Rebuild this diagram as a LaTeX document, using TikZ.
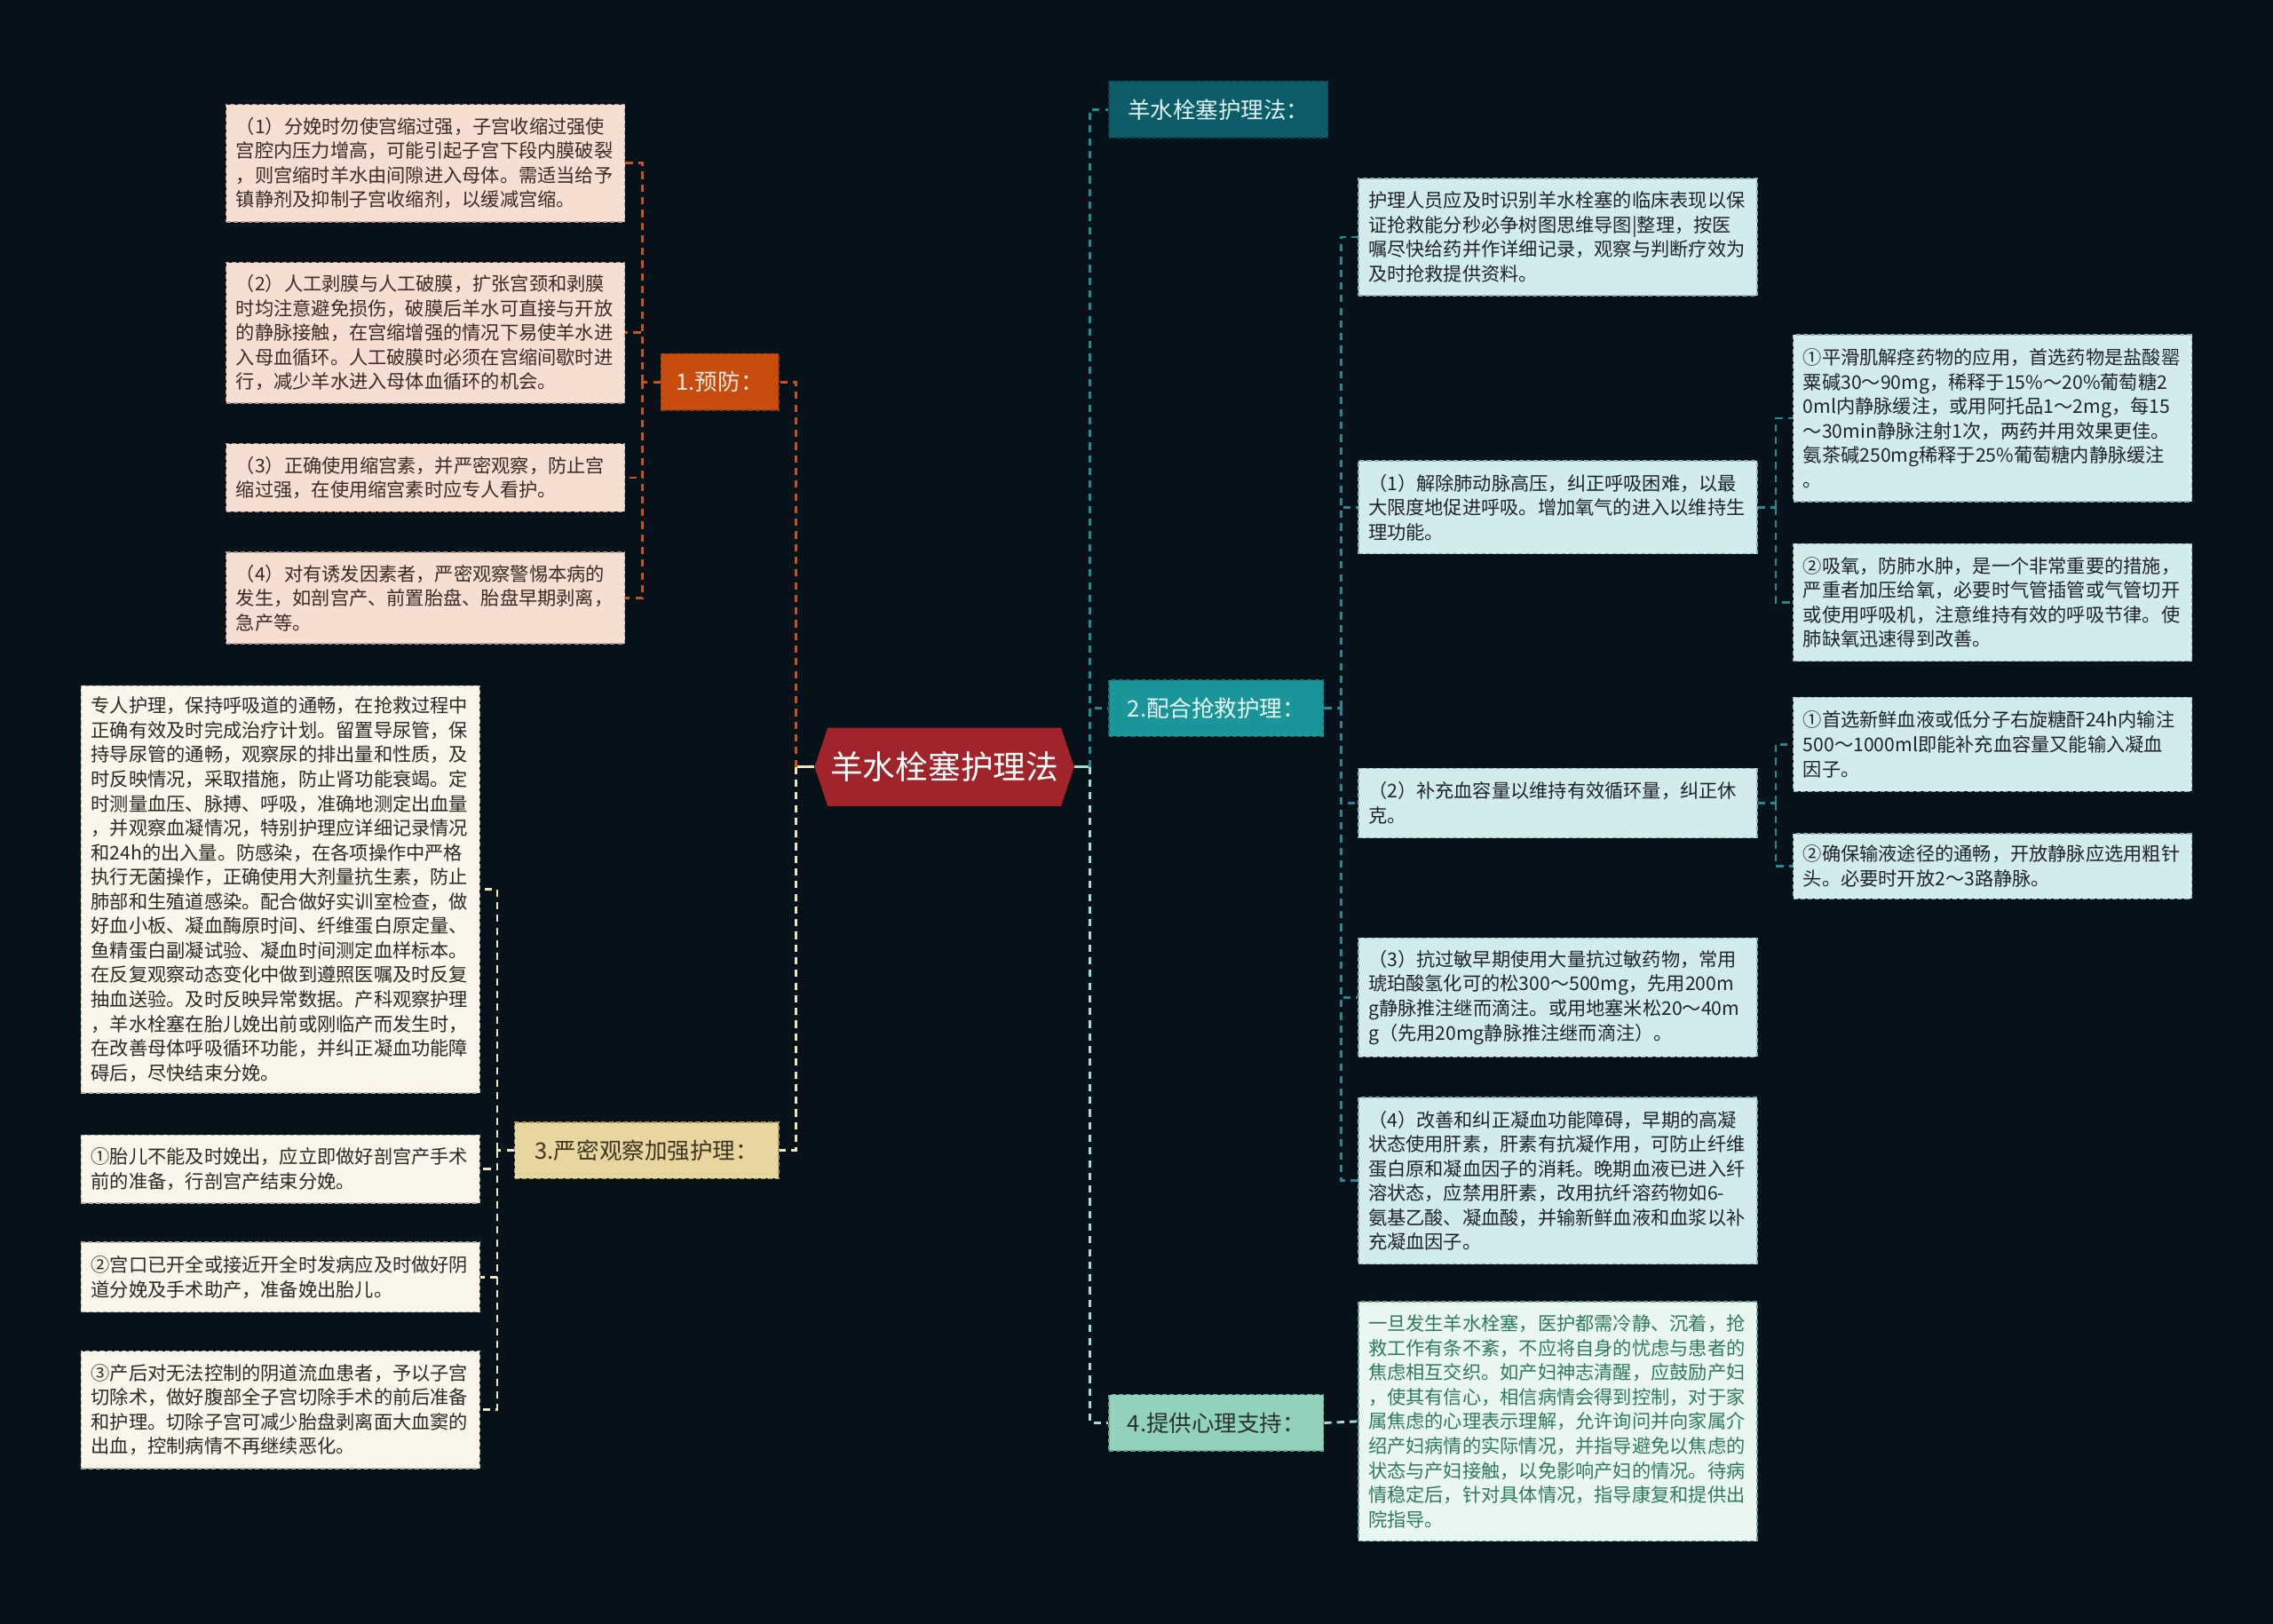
\documentclass[tikz,border=0pt]{standalone}
\usepackage{fontspec}
\setmainfont{Noto Sans CJK SC}
\usetikzlibrary{calc}
\definecolor{bgc}{RGB}{6,17,26}
\definecolor{rootred}{RGB}{160,36,42}
\definecolor{orangebox}{RGB}{200,76,14}
\definecolor{orangeline}{RGB}{196,84,30}
\definecolor{orangeborder}{RGB}{150,55,10}
\definecolor{pinkfill}{RGB}{247,222,210}
\definecolor{pinkborder}{RGB}{180,150,140}
\definecolor{pinktext}{RGB}{58,42,36}
\definecolor{tanbox}{RGB}{232,214,160}
\definecolor{tanborder}{RGB}{170,150,100}
\definecolor{creamline}{RGB}{238,228,192}
\definecolor{creamfill}{RGB}{250,246,235}
\definecolor{creamborder}{RGB}{180,175,160}
\definecolor{darktext}{RGB}{44,40,36}
\definecolor{tealdark}{RGB}{12,92,106}
\definecolor{tealdarkborder}{RGB}{8,70,82}
\definecolor{tealbox}{RGB}{26,150,155}
\definecolor{tealboxborder}{RGB}{18,118,122}
\definecolor{tealline}{RGB}{36,138,146}
\definecolor{cyanfill}{RGB}{210,236,238}
\definecolor{cyanborder}{RGB}{140,175,180}
\definecolor{cyantext}{RGB}{30,36,38}
\definecolor{mintbox}{RGB}{146,210,188}
\definecolor{mintborder}{RGB}{100,165,145}
\definecolor{mintline}{RGB}{170,220,206}
\definecolor{mintfill}{RGB}{234,246,240}
\definecolor{minttext}{RGB}{46,122,92}
\definecolor{n1text}{RGB}{253,232,222}
\definecolor{n3text}{RGB}{60,50,30}
\definecolor{nttext}{RGB}{224,244,246}
\definecolor{n2text}{RGB}{236,251,251}
\definecolor{n4text}{RGB}{40,50,45}
\begin{document}
\begin{tikzpicture}[x=0.8pt,y=-0.8pt,
  leaf/.style={rectangle, draw, line width=0.7pt, dash pattern=on 2.5pt off 1.5pt,
    inner xsep=5.5pt, inner ysep=0pt, text width=209pt, align=left,
    font=\fontsize{10.4}{13.5}\selectfont},
  pinkleaf/.style={leaf, fill=pinkfill, draw=pinkborder, text=pinktext},
  creamleaf/.style={leaf, fill=creamfill, draw=creamborder, text=darktext},
  cyanleaf/.style={leaf, fill=cyanfill, draw=cyanborder, text=cyantext},
  mintleaf/.style={leaf, fill=mintfill, draw=mintborder, text=minttext},
  mainbox/.style={rectangle, draw, line width=0.8pt, dash pattern=on 2.5pt off 1.5pt,
    inner sep=0pt, minimum height=31.2pt, font=\fontsize{12.5}{15}\selectfont},
  link/.style={line width=1.4pt, dash pattern=on 4pt off 3pt},
  orangelink/.style={link, draw=orangeline},
  creamlink/.style={link, draw=creamline},
  teallink/.style={link, draw=tealline},
  mintlink/.style={link, draw=mintline}
]
\fill[bgc] (0,0) rectangle (1568,1120);
\useasboundingbox (0,0) rectangle (1568,1120);

% root
\fill[rootred] (562,529) -- (571,502) -- (732,502) -- (741,529) -- (732,556) -- (571,556) -- cycle;
\node[text=white, font=\fontsize{18}{20}\selectfont, minimum width=143.2pt, minimum height=43.2pt, inner sep=0pt] (root) at (651.5,529) {羊水栓塞护理法};

% level 1
\node[mainbox, fill=orangebox, draw=orangeborder, text=n1text, minimum width=64.8pt] (n1) at (496.5,263.5) {1.预防：};
\node[mainbox, fill=tanbox, draw=tanborder, text=n3text, minimum width=145.6pt] (n3) at (446,793.5) {3.严密观察加强护理：};
\node[mainbox, fill=tealdark, draw=tealdarkborder, text=nttext, minimum width=120.8pt] (nt) at (840.5,75.5) {羊水栓塞护理法：};
\node[mainbox, fill=tealbox, draw=tealboxborder, text=n2text, minimum width=118.4pt] (n2) at (839,488.5) {2.配合抢救护理：};
\node[mainbox, fill=mintbox, draw=mintborder, text=n4text, minimum width=118.4pt] (n4) at (839,981.5) {4.提供心理支持：};

% prevention children
\node[pinkleaf, minimum height=64.8pt] (c1) at (293.5,112.5) {（1）分娩时勿使宫缩过强，子宫收缩过强使\\宫腔内压力增高，可能引起子宫下段内膜破裂\\，则宫缩时羊水由间隙进入母体。需适当给予\\镇静剂及抑制子宫收缩剂，以缓减宫缩。};
\node[pinkleaf, minimum height=77.6pt] (c2) at (293.5,229.5) {（2）人工剥膜与人工破膜，扩张宫颈和剥膜\\时均注意避免损伤，破膜后羊水可直接与开放\\的静脉接触，在宫缩增强的情况下易使羊水进\\入母血循环。人工破膜时必须在宫缩间歇时进\\行，减少羊水进入母体血循环的机会。};
\node[pinkleaf, minimum height=37.6pt] (c3) at (293.5,329.5) {（3）正确使用缩宫素，并严密观察，防止宫\\缩过强，在使用缩宫素时应专人看护。};
\node[pinkleaf, minimum height=50.4pt] (c4) at (293.5,412.5) {（4）对有诱发因素者，严密观察警惕本病的\\发生，如剖宫产、前置胎盘、胎盘早期剥离，\\急产等。};

% observation children
\node[creamleaf, minimum height=224.8pt] (d0) at (193.5,613.5) {专人护理，保持呼吸道的通畅，在抢救过程中\\正确有效及时完成治疗计划。留置导尿管，保\\持导尿管的通畅，观察尿的排出量和性质，及\\时反映情况，采取措施，防止肾功能衰竭。定\\时测量血压、脉搏、呼吸，准确地测定出血量\\，并观察血凝情况，特别护理应详细记录情况\\和24h的出入量。防感染，在各项操作中严格\\执行无菌操作，正确使用大剂量抗生素，防止\\肺部和生殖道感染。配合做好实训室检查，做\\好血小板、凝血酶原时间、纤维蛋白原定量、\\鱼精蛋白副凝试验、凝血时间测定血样标本。\\在反复观察动态变化中做到遵照医嘱及时反复\\抽血送验。及时反映异常数据。产科观察护理\\，羊水栓塞在胎儿娩出前或刚临产而发生时，\\在改善母体呼吸循环功能，并纠正凝血功能障\\碍后，尽快结束分娩。};
\node[creamleaf, minimum height=37.6pt] (d1) at (193.5,806.5) {①胎儿不能及时娩出，应立即做好剖宫产手术\\前的准备，行剖宫产结束分娩。};
\node[creamleaf, minimum height=38.4pt] (d2) at (193.5,881) {②宫口已开全或接近开全时发病应及时做好阴\\道分娩及手术助产，准备娩出胎儿。};
\node[creamleaf, minimum height=64.8pt] (d3) at (193.5,972.5) {③产后对无法控制的阴道流血患者，予以子宫\\切除术，做好腹部全子宫切除手术的前后准备\\和护理。切除子宫可减少胎盘剥离面大血窦的\\出血，控制病情不再继续恶化。};

% rescue children
\node[cyanleaf, minimum height=64.8pt] (e0) at (1074.5,163.5) {护理人员应及时识别羊水栓塞的临床表现以保\\证抢救能分秒必争树图思维导图|整理，按医\\嘱尽快给药并作详细记录，观察与判断疗效为\\及时抢救提供资料。};
\node[cyanleaf, minimum height=51.2pt] (e1) at (1074.5,350) {（1）解除肺动脉高压，纠正呼吸困难，以最\\大限度地促进呼吸。增加氧气的进入以维持生\\理功能。};
\node[cyanleaf, minimum height=38.4pt] (e2) at (1074.5,554) {（2）补充血容量以维持有效循环量，纠正休\\克。};
\node[cyanleaf, minimum height=65.6pt] (e3) at (1074.5,688) {（3）抗过敏早期使用大量抗过敏药物，常用\\琥珀酸氢化可的松300～500mg，先用200m\\g静脉推注继而滴注。或用地塞米松20～40m\\g（先用20mg静脉推注继而滴注）。};
\node[cyanleaf, minimum height=92pt] (e4) at (1074.5,814.5) {（4）改善和纠正凝血功能障碍，早期的高凝\\状态使用肝素，肝素有抗凝作用，可防止纤维\\蛋白原和凝血因子的消耗。晚期血液已进入纤\\溶状态，应禁用肝素，改用抗纤溶药物如6-\\氨基乙酸、凝血酸，并输新鲜血液和血浆以补\\充凝血因子。};
\node[cyanleaf, minimum height=92pt] (e1a) at (1374.5,288.5) {①平滑肌解痉药物的应用，首选药物是盐酸罂\\粟碱30～90mg，稀释于15\%～20\%葡萄糖2\\0ml内静脉缓注，或用阿托品1～2mg，每15\\～30min静脉注射1次，两药并用效果更佳。\\氨茶碱250mg稀释于25\%葡萄糖内静脉缓注\\。};
\node[cyanleaf, minimum height=64.8pt] (e1b) at (1374.5,415.5) {②吸氧，防肺水肿，是一个非常重要的措施，\\严重者加压给氧，必要时气管插管或气管切开\\或使用呼吸机，注意维持有效的呼吸节律。使\\肺缺氧迅速得到改善。};
\node[cyanleaf, minimum height=52pt] (e2a) at (1374.5,513.5) {①首选新鲜血液或低分子右旋糖酐24h内输注\\500～1000ml即能补充血容量又能输入凝血\\因子。};
\node[cyanleaf, minimum height=36pt] (e2b) at (1374.5,597.5) {②确保输液途径的通畅，开放静脉应选用粗针\\头。必要时开放2～3路静脉。};

% support child
\node[mintleaf, minimum height=132pt] (f0) at (1074.5,980.5) {一旦发生羊水栓塞，医护都需冷静、沉着，抢\\救工作有条不紊，不应将自身的忧虑与患者的\\焦虑相互交织。如产妇神志清醒，应鼓励产妇\\，使其有信心，相信病情会得到控制，对于家\\属焦虑的心理表示理解，允许询问并向家属介\\绍产妇病情的实际情况，并指导避免以焦虑的\\状态与产妇接触，以免影响产妇的情况。待病\\情稳定后，针对具体情况，指导康复和提供出\\院指导。};

% trunk connectors
\coordinate (L) at (549,529);
\coordinate (R) at (752,529);
\draw[line width=1.4pt, creamline] (root.west) -- (L);
\draw[line width=1.4pt, mintline] (root.east) -- (R);
\draw[orangelink] (L) |- (n1.east);
\draw[creamlink] (L) |- (n3.east);
\draw[teallink] (R) |- (nt.west);
\draw[teallink] (R) |- (n2.west);
\draw[mintlink] (R) |- (n4.west);

% prevention bus
\coordinate (b1) at (443,263.5);
\draw[orangelink] (n1.west) -- (b1);
\foreach \c in {c1,c2,c3,c4} \draw[orangelink] (b1) |- (\c.east);

% observation bus
\coordinate (b3) at (343,793.5);
\draw[creamlink] (n3.west) -- (b3);
\foreach \c in {d0,d1,d2,d3} \draw[creamlink] (b3) |- (\c.east);

% rescue bus
\coordinate (b2) at (925,488.5);
\draw[teallink] (n2.east) -- (b2);
\foreach \c in {e0,e1,e2,e3,e4} \draw[teallink] (b2) |- (\c.west);
\coordinate (b21) at (1225,350);
\draw[teallink] (e1.east) -- (b21);
\foreach \c in {e1a,e1b} \draw[teallink] (b21) |- (\c.west);
\coordinate (b22) at (1225,554);
\draw[teallink] (e2.east) -- (b22);
\foreach \c in {e2a,e2b} \draw[teallink] (b22) |- (\c.west);

% support
\draw[mintlink] (n4.east) -- (f0.west);
\end{tikzpicture}
\end{document}
